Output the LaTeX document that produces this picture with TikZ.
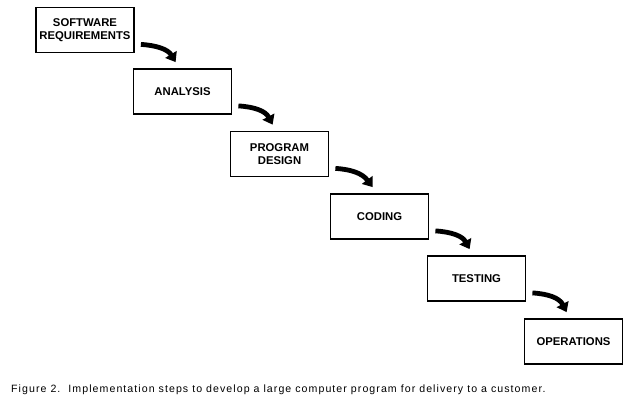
\documentclass[tikz,border=0pt]{standalone}
\usepackage{fontspec}
\setmainfont{Liberation Sans}
\usetikzlibrary{arrows.meta,calc}
\tikzset{
  stepbox/.style={draw=black, line width=1.8bp, minimum width=98bp, minimum height=45bp,
    inner sep=0pt, align=center, font=\fontsize{11.3bp}{12.8bp}\selectfont\bfseries},
  flowarrow/.style={line width=4.8bp, -{Triangle[length=9bp,width=13bp]}},
}
\begin{document}
\begin{tikzpicture}[x=1bp,y=-1bp]
\useasboundingbox[fill=white] (0,0) rectangle (636,403);
\node[stepbox] (b1) at (85,30) {SOFTWARE\\REQUIREMENTS};
\node[stepbox] (b2) at (182.5,91.5) {ANALYSIS};
\node[stepbox] (b3) at (279.5,154) {PROGRAM\\DESIGN};
\node[stepbox] (b4) at (379.5,216.5) {CODING};
\node[stepbox] (b5) at (476.5,278.5) {TESTING};
\node[stepbox] (b6) at (573.5,341.5) {OPERATIONS};
\foreach \a/\b in {b1/b2,b2/b3,b3/b4,b4/b5,b5/b6}{
  \draw[flowarrow] ($(\a.south east)+(6,-9)$) .. controls ($(\a.south east)+(22,-8)$) and ($(\a.south east)+(33,-4)$) .. ($(\b.north west)+(43,-6)$);
}
\node[anchor=base west, inner sep=0pt, font=\fontsize{10.6bp}{12bp}\selectfont\addfontfeatures{LetterSpace=10}] (cap) at (11,392) {Figure 2.\ \ Implementation steps to develop a large computer program for delivery to a customer.};
\end{tikzpicture}
\end{document}
